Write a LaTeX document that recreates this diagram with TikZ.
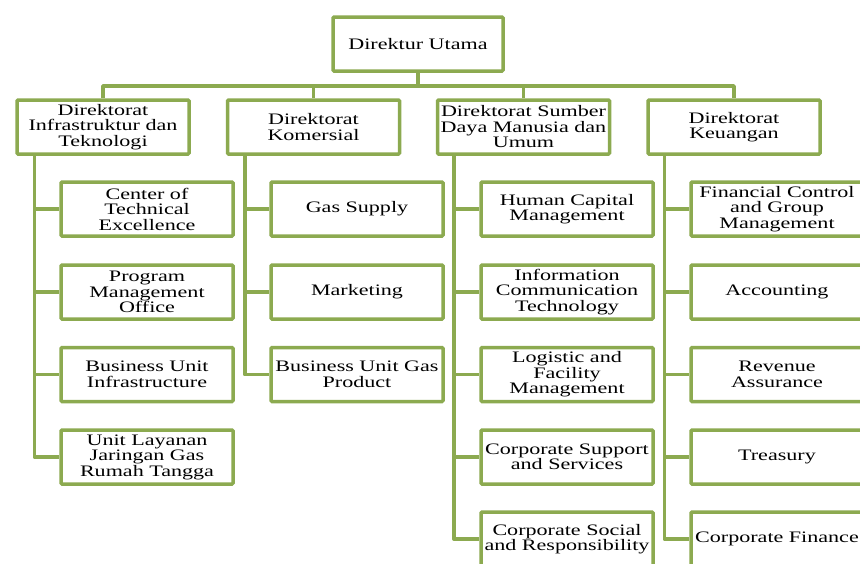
\documentclass[tikz,border=0pt]{standalone}
\usepackage{fontspec}
\setmainfont[FakeStretch=1.38]{Liberation Serif}
\usetikzlibrary{backgrounds}
\definecolor{boxgreen}{RGB}{140,170,80}
\begin{document}
\begin{tikzpicture}[x=1pt,y=-1pt,
  box/.style={draw=boxgreen,line width=3.5pt,fill=white,rounded corners=1pt,
    minimum width=172pt,minimum height=54pt,inner sep=0pt,align=center,
    font=\fontsize{16}{15.5}\selectfont},
  conn/.style={draw=boxgreen,line width=3.5pt,line join=round}]
\useasboundingbox (0,0) rectangle (860,563);
\clip (0,0) rectangle (860,563);
% positions
\coordinate (bus) at (0,86);
% top
\node[box,minimum width=170pt] (top) at (418,44) {Direktur Utama};
% level 2
\node[box] (d1) at (103,127) {Direktorat\\Infrastruktur dan\\Teknologi};
\node[box] (d2) at (313.5,127) {Direktorat\\Komersial};
\node[box] (d3) at (523.5,127) {Direktorat Sumber\\Daya Manusia dan\\Umum};
\node[box] (d4) at (734,127) {Direktorat\\Keuangan};
% column 1
\node[box] (c11) at (147,209) {Center of\\Technical\\Excellence};
\node[box] (c12) at (147,292) {Program\\Management\\Office};
\node[box] (c13) at (147,374.5) {Business Unit\\Infrastructure};
\node[box] (c14) at (147,457) {Unit Layanan\\Jaringan Gas\\Rumah Tangga};
% column 2
\node[box] (c21) at (357,209) {Gas Supply};
\node[box] (c22) at (357,292) {Marketing};
\node[box] (c23) at (357,374.5) {Business Unit Gas\\Product};
% column 3
\node[box] (c31) at (567,209) {Human Capital\\Management};
\node[box] (c32) at (567,292) {Information\\Communication\\Technology};
\node[box] (c33) at (567,374.5) {Logistic and\\Facility\\Management};
\node[box] (c34) at (567,457) {Corporate Support\\and Services};
\node[box] (c35) at (567,539) {Corporate Social\\and Responsibility};
% column 4
\node[box] (c41) at (777,209) {Financial Control\\and Group\\Management};
\node[box] (c42) at (777,292) {Accounting};
\node[box] (c43) at (777,374.5) {Revenue\\Assurance};
\node[box] (c44) at (777,457) {Treasury};
\node[box] (c45) at (777,539) {Corporate Finance};
% connectors
\begin{scope}[on background layer]
\fill[white] (0,0) rectangle (860,563);
\draw[conn] (top.south) -- (top.south |- bus);
\draw[conn] (d1.north) -- (d1.north |- bus) -- (d4.north |- bus) -- (d4.north);
\draw[conn] (d2.north) -- (d2.north |- bus);
\draw[conn] (d3.north) -- (d3.north |- bus);
% spines
\coordinate (s1) at ([xshift=19pt]d1.south west);
\coordinate (s2) at ([xshift=19pt]d2.south west);
\coordinate (s3) at ([xshift=18pt]d3.south west);
\coordinate (s4) at ([xshift=18pt]d4.south west);
\draw[conn] (s1) |- (c14.west);
\foreach \c in {c11,c12,c13} \draw[conn] (s1 |- \c.west) -- (\c.west);
\draw[conn] (s2) |- (c23.west);
\foreach \c in {c21,c22} \draw[conn] (s2 |- \c.west) -- (\c.west);
\draw[conn] (s3) |- (c35.west);
\foreach \c in {c31,c32,c33,c34} \draw[conn] (s3 |- \c.west) -- (\c.west);
\draw[conn] (s4) |- (c45.west);
\foreach \c in {c41,c42,c43,c44} \draw[conn] (s4 |- \c.west) -- (\c.west);
\end{scope}
\end{tikzpicture}
\end{document}
